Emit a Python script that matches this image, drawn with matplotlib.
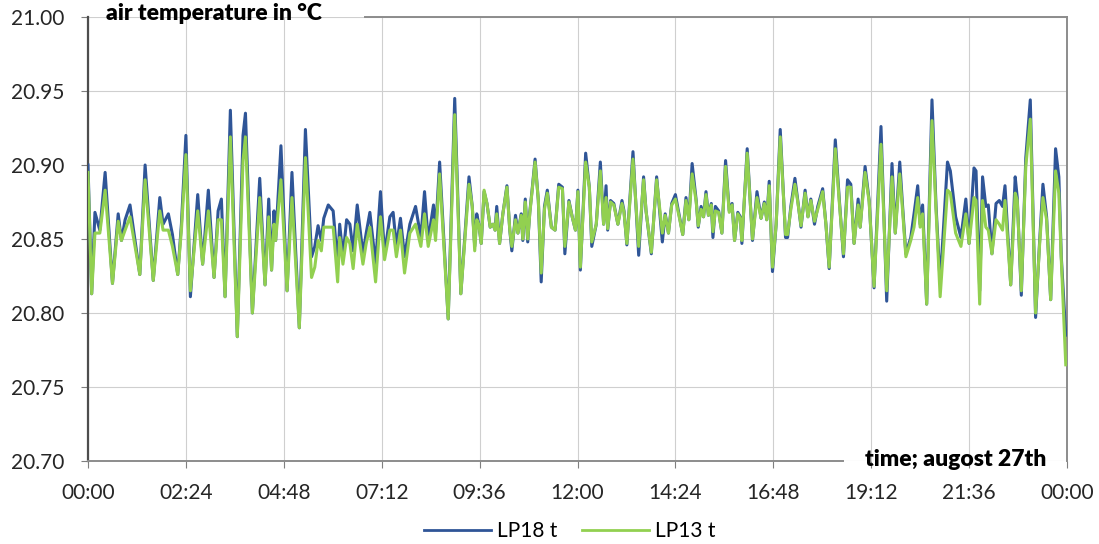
import matplotlib
matplotlib.use("Agg")
import matplotlib.pyplot as plt
from matplotlib.lines import Line2D

plt.rcParams['font.family'] = ['Lato', 'DejaVu Sans']

# time of day in hours
hours = [
    0.00, 0.09, 0.17, 0.29, 0.42, 0.60, 0.74, 0.82, 0.91, 1.03, 1.27, 1.40, 1.60, 1.76, 1.84, 1.97, 2.07, 2.20, 2.29, 2.40,
    2.51, 2.69, 2.81, 2.95, 3.09,
    3.19, 3.27, 3.36, 3.49, 3.66, 3.80, 3.86, 4.03, 4.21, 4.34, 4.43, 4.50, 4.56, 4.60, 4.73, 4.88, 5.00, 5.18, 5.33, 5.48,
    5.56, 5.64, 5.72, 5.78, 5.89, 6.01, 6.05,
    6.12, 6.17, 6.25, 6.34, 6.42, 6.50, 6.60, 6.74, 6.82, 6.91, 7.05, 7.17, 7.27, 7.40, 7.48, 7.56, 7.66, 7.76, 7.89, 8.03,
    8.16, 8.25, 8.34, 8.47, 8.52, 8.62, 8.83, 8.99, 9.14,
    9.34, 9.42, 9.48, 9.53, 9.58, 9.64, 9.71, 9.78, 9.86, 9.93, 9.98, 10.02, 10.09, 10.17, 10.27, 10.34, 10.39, 10.48,
    10.54, 10.62, 10.66, 10.72, 10.78, 10.83, 10.89, 10.96, 11.04, 11.11, 11.19, 11.26, 11.36, 11.45, 11.54, 11.63,
    11.69, 11.79, 11.87, 11.95, 12.01, 12.07, 12.20, 12.29,
    12.35, 12.46, 12.56, 12.64, 12.70, 12.74, 12.81, 12.89, 12.99, 13.09, 13.14, 13.21, 13.36, 13.50, 13.62, 13.68,
    13.81, 13.94, 14.08, 14.15, 14.23, 14.31, 14.40, 14.50, 14.58, 14.66, 14.73, 14.81, 14.91, 14.96, 15.03, 15.09,
    15.15, 15.21, 15.28, 15.32,
    15.38, 15.46, 15.54, 15.63, 15.72, 15.79, 15.85, 15.93, 15.99, 16.03, 16.16, 16.29, 16.40, 16.50, 16.58, 16.64,
    16.70, 16.78, 16.87, 16.97, 17.10, 17.15, 17.23, 17.33, 17.40, 17.48, 17.58, 17.65, 17.72, 17.81, 17.89, 18.01,
    18.09, 18.17, 18.32, 18.42,
    18.52, 18.62, 18.70, 18.78, 18.88, 18.93, 19.05, 19.15, 19.27, 19.44, 19.58, 19.71, 19.79, 19.90, 19.97, 20.05,
    20.17, 20.25, 20.34, 20.40, 20.46, 20.56, 20.69, 20.79, 20.89, 21.07, 21.14,
    21.27, 21.40, 21.52, 21.60, 21.72, 21.77, 21.86, 21.93, 22.01, 22.07, 22.16, 22.26, 22.34, 22.42, 22.48, 22.62,
    22.73, 22.78, 22.88, 22.99, 23.10, 23.23, 23.33, 23.41, 23.50, 23.60, 23.72, 23.80, 23.86, 23.97,
]

lp18 = [
    20.900, 20.813, 20.868, 20.856, 20.895, 20.820, 20.867, 20.849, 20.863, 20.873, 20.826, 20.900, 20.822, 20.878,
    20.860, 20.867, 20.853, 20.826, 20.860, 20.920, 20.811, 20.880, 20.833, 20.883, 20.824,
    20.869, 20.877, 20.811, 20.937, 20.784, 20.920, 20.935, 20.800, 20.891, 20.819, 20.877, 20.829, 20.869, 20.849,
    20.913, 20.815, 20.895, 20.790, 20.924, 20.838, 20.845, 20.859, 20.849, 20.864, 20.873, 20.869, 20.856,
    20.833, 20.860, 20.838, 20.863, 20.860, 20.842, 20.873, 20.840, 20.854, 20.868, 20.833, 20.882, 20.840, 20.865,
    20.868, 20.845, 20.864, 20.838, 20.860, 20.872, 20.851, 20.882, 20.849, 20.873, 20.854, 20.902, 20.796, 20.945,
    20.813,
    20.892, 20.872, 20.845, 20.867, 20.860, 20.847, 20.882, 20.874, 20.858, 20.860, 20.856, 20.872, 20.847, 20.867,
    20.886, 20.856, 20.842, 20.866, 20.854, 20.867, 20.849, 20.877, 20.848, 20.868, 20.884, 20.904, 20.876, 20.821,
    20.872, 20.883, 20.858, 20.856, 20.887, 20.885, 20.840, 20.876, 20.865, 20.856, 20.883, 20.829, 20.908, 20.885,
    20.845, 20.860, 20.902, 20.860, 20.886, 20.856, 20.876, 20.874, 20.860, 20.876, 20.869, 20.846, 20.909, 20.839,
    20.892, 20.869, 20.840, 20.892, 20.848, 20.867, 20.854, 20.874, 20.880, 20.865, 20.853, 20.878, 20.863, 20.901,
    20.876, 20.858, 20.872, 20.865, 20.882, 20.866, 20.874, 20.851,
    20.872, 20.869, 20.854, 20.903, 20.869, 20.874, 20.849, 20.868, 20.865, 20.847, 20.911, 20.849, 20.882, 20.864,
    20.875, 20.863, 20.889, 20.828, 20.860, 20.924, 20.851, 20.851, 20.872, 20.891, 20.876, 20.858, 20.883, 20.865,
    20.877, 20.860, 20.872, 20.884, 20.860, 20.830, 20.917, 20.876,
    20.838, 20.890, 20.887, 20.847, 20.877, 20.858, 20.899, 20.876, 20.817, 20.926, 20.808, 20.901, 20.854, 20.902,
    20.872, 20.840, 20.851, 20.867, 20.886, 20.860, 20.873, 20.806, 20.944, 20.872, 20.820, 20.902, 20.896,
    20.865, 20.851, 20.877, 20.847, 20.898, 20.896, 20.815, 20.892, 20.872, 20.873, 20.840, 20.874, 20.876, 20.872,
    20.886, 20.819, 20.892, 20.878, 20.812, 20.905, 20.944, 20.797, 20.849, 20.887, 20.865, 20.809, 20.911, 20.892,
    20.838, 20.785,
]

lp13 = [
    20.895, 20.813, 20.854, 20.854, 20.883, 20.820, 20.862, 20.849, 20.856, 20.865, 20.826, 20.890, 20.822, 20.869,
    20.856, 20.856, 20.845, 20.826, 20.856, 20.907, 20.815, 20.869, 20.833, 20.869, 20.824,
    20.863, 20.863, 20.811, 20.919, 20.784, 20.903, 20.919, 20.800, 20.878, 20.819, 20.865, 20.829, 20.860, 20.849,
    20.890, 20.815, 20.878, 20.790, 20.905, 20.824, 20.831, 20.849, 20.842, 20.858, 20.858, 20.858, 20.845,
    20.821, 20.851, 20.833, 20.851, 20.847, 20.830, 20.860, 20.833, 20.847, 20.858, 20.821, 20.865, 20.836, 20.856,
    20.856, 20.838, 20.856, 20.827, 20.854, 20.860, 20.845, 20.867, 20.845, 20.863, 20.849, 20.894, 20.796, 20.934,
    20.813,
    20.887, 20.872, 20.842, 20.863, 20.860, 20.847, 20.883, 20.874, 20.858, 20.860, 20.856, 20.867, 20.847, 20.867,
    20.885, 20.856, 20.845, 20.863, 20.854, 20.866, 20.850, 20.875, 20.850, 20.867, 20.883, 20.902, 20.876, 20.827,
    20.870, 20.881, 20.858, 20.856, 20.885, 20.884, 20.845, 20.875, 20.865, 20.856, 20.882, 20.831, 20.902, 20.885,
    20.848, 20.860, 20.896, 20.860, 20.878, 20.857, 20.875, 20.873, 20.860, 20.874, 20.868, 20.847, 20.904, 20.845,
    20.890, 20.869, 20.841, 20.890, 20.854, 20.866, 20.854, 20.873, 20.877, 20.864, 20.853, 20.876, 20.863, 20.894,
    20.875, 20.859, 20.870, 20.865, 20.880, 20.866, 20.873, 20.855,
    20.869, 20.868, 20.854, 20.899, 20.868, 20.873, 20.849, 20.867, 20.864, 20.849, 20.908, 20.850, 20.878, 20.864,
    20.874, 20.863, 20.886, 20.831, 20.860, 20.919, 20.853, 20.853, 20.870, 20.887, 20.875, 20.859, 20.881, 20.865,
    20.876, 20.862, 20.870, 20.882, 20.860, 20.831, 20.911, 20.874,
    20.840, 20.885, 20.885, 20.847, 20.873, 20.858, 20.895, 20.875, 20.818, 20.914, 20.815, 20.892, 20.854, 20.894,
    20.869, 20.838, 20.849, 20.858, 20.878, 20.858, 20.867, 20.806, 20.930, 20.869, 20.811, 20.883, 20.881,
    20.854, 20.845, 20.867, 20.847, 20.878, 20.876, 20.806, 20.876, 20.858, 20.856, 20.840, 20.863, 20.860, 20.856,
    20.876, 20.819, 20.881, 20.876, 20.815, 20.899, 20.931, 20.800, 20.847, 20.878, 20.863, 20.809, 20.896, 20.881,
    20.836, 20.765,
]

x_ticks = [0, 2.4, 4.8, 7.2, 9.6, 12.0, 14.4, 16.8, 19.2, 21.6, 24.0]
x_labels = ["00:00", "02:24", "04:48", "07:12", "09:36", "12:00", "14:24", "16:48", "19:12", "21:36", "00:00"]
y_ticks = [20.70, 20.75, 20.80, 20.85, 20.90, 20.95, 21.00]

W, H = 1099, 544
fig = plt.figure(figsize=(W / 100, H / 100), dpi=100)
ax = fig.add_axes([88 / W, 1 - 461 / H, (1067 - 88) / W, (461 - 17) / H])

ax.plot(hours, lp18, color="#2F5597", lw=2.2, label="LP18 t", zorder=3)
ax.plot(hours, lp13, color="#92D050", lw=2.2, label="LP13 t", zorder=4)

ax.set_xlim(0, 24)
ax.set_ylim(20.70, 21.00)
ax.set_xticks(x_ticks)
ax.set_xticklabels(x_labels)
ax.set_yticks(y_ticks)
ax.set_yticklabels(["%.2f" % v for v in y_ticks])
ax.grid(True, color="#CFCFCF", lw=0.8)
ax.set_axisbelow(True)
ax.tick_params(axis="both", direction="out", length=5, color="#7F7F7F", labelsize=15, labelcolor="#262626")
ax.tick_params(axis="y", pad=12)
ax.tick_params(axis="x", pad=11)

# spines: top and bottom interrupted by the axis captions
ax.spines["left"].set_color("#4D4D4D")
ax.spines["left"].set_linewidth(1.6)
ax.spines["right"].set_color("#8C8C8C")
ax.spines["right"].set_linewidth(1.4)
ax.spines["top"].set_visible(False)
ax.spines["bottom"].set_visible(False)
fig.add_artist(Line2D([365 / W, 1067 / W], [1 - 17 / H, 1 - 17 / H], color="#8C8C8C", lw=1.4))
fig.add_artist(Line2D([88 / W, 843 / W], [1 - 461 / H, 1 - 461 / H], color="#8C8C8C", lw=1.4))

fig.text(106 / W, 1 - 14 / H, "air temperature in °C", fontsize=16.5, fontweight="heavy", va="center", ha="left")
fig.text(1046 / W, 1 - 460 / H, "time; augost 27th", fontsize=16.5, fontweight="heavy", va="center", ha="right")

leg = fig.legend(loc="center", bbox_to_anchor=(570 / W, 1 - 531 / H), ncol=2, frameon=False,
                 fontsize=15, handlelength=3.2, handletextpad=0.3, columnspacing=1.2)
for ln in leg.get_lines():
    ln.set_linewidth(2)

fig.savefig("out.png", dpi=100)
